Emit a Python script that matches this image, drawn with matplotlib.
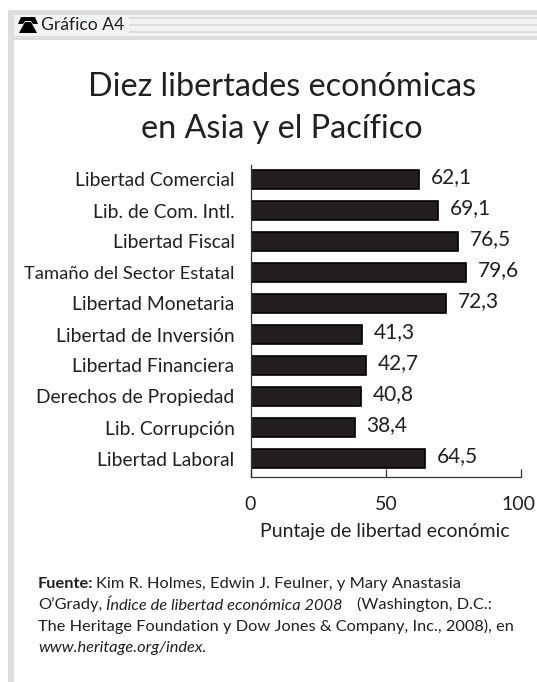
import matplotlib

matplotlib.use("Agg")
import matplotlib.pyplot as plt
from matplotlib.patches import Polygon, Rectangle
from matplotlib.transforms import ScaledTranslation

categories = [
    "Libertad Comercial",
    "Lib. de Com. Intl.",
    "Libertad Fiscal",
    "Tamaño del Sector Estatal",
    "Libertad Monetaria",
    "Libertad de Inversión",
    "Libertad Financiera",
    "Derechos de Propiedad",
    "Lib. Corrupción",
    "Libertad Laboral",
]
scores = [62.1, 69.1, 76.5, 79.6, 72.3, 41.3, 42.7, 40.8, 38.4, 64.5]
x_ticks = [0, 50, 100]

W, H = 537, 682
TEXT = "#231f20"
GREY = "#dcddde"
PALE = "#f1f2f2"


def main() -> None:
    plt.rcParams["font.family"] = ["Lato", "DejaVu Sans"]
    fig = plt.figure(figsize=(W / 100, H / 100), dpi=100, facecolor="white")

    # page furniture in pixel coordinates
    bg = fig.add_axes([0, 0, 1, 1])
    bg.set_xlim(0, W)
    bg.set_ylim(H, 0)
    bg.axis("off")
    bg.add_patch(Rectangle((8, 10), W - 8, 30, fc=GREY, ec="none"))
    bg.add_patch(Rectangle((8, 10), 6, H - 10, fc=GREY, ec="none"))
    bg.add_patch(Rectangle((14, 15), W - 14, 21, fc=PALE, ec="none"))
    for y in (17, 24, 31):
        bg.add_patch(Rectangle((129, y), W - 129, 2.2, fc=GREY, ec="none"))
    # telephone icon
    bg.add_patch(Polygon([(21, 17), (35, 17), (38, 24), (33, 24), (31, 21), (25, 21), (23, 24), (18, 24)],
                         fc="black", ec="none"))
    bg.add_patch(Polygon([(25, 22), (31, 22), (37, 33), (19, 33)], fc="black", ec="none"))
    bg.text(41, 25.5, "Gráfico A4", fontsize=12.6, color=TEXT, ha="left", va="center")
    bg.text(282, 87, "Diez libertades económicas", fontsize=23.3, color=TEXT, ha="center", va="center")
    bg.text(282, 129, "en Asia y el Pacífico", fontsize=23.3, color=TEXT, ha="center", va="center")

    fs = 11.8
    bg.text(38, 588, "Fuente:", fontsize=fs, fontweight="bold", color=TEXT, va="baseline")
    bg.text(96, 588, "Kim R. Holmes, Edwin J. Feulner, y Mary Anastasia", fontsize=fs, color=TEXT, va="baseline")
    bg.text(38, 609.5, "O’Grady,", fontsize=fs, color=TEXT, va="baseline")
    bg.text(106, 609.5, "Índice de libertad económica 2008", fontsize=fs, style="italic", color=TEXT, va="baseline")
    bg.text(357, 609.5, "(Washington, D.C.:", fontsize=fs, color=TEXT, va="baseline")
    bg.text(38, 631, "The Heritage Foundation y Dow Jones & Company, Inc., 2008), en", fontsize=fs, color=TEXT, va="baseline")
    bg.text(38, 652, "www.heritage.org/index.", fontsize=fs, style="italic", color=TEXT, va="baseline")

    # chart axes: x 0..100 spans px 250.5..521.5, bars every 31 px
    left, right, top, bottom = 250.5, 521.5, 165, 476.5
    ax = fig.add_axes([left / W, 1 - bottom / H, (right - left) / W, (bottom - top) / H])
    ax.patch.set_alpha(0)
    ypos = list(range(len(categories)))
    ax.barh(ypos, scores, height=0.6, color="#231f20", edgecolor="black", linewidth=1.2)
    ax.set_xlim(0, 100)
    ax.set_ylim((bottom - 179.5) / 31, (top - 179.5) / 31)
    ax.spines[["top", "right"]].set_visible(False)
    ax.spines[["left", "bottom"]].set_color("#333333")
    ax.spines[["left", "bottom"]].set_linewidth(0.9)
    ax.set_yticks(ypos, categories, fontsize=13.9, color=TEXT)
    # the longest label is set narrower in the reference
    ax.get_yticklabels()[3].set_fontsize(13.2)
    ax.tick_params(axis="y", length=0, pad=11.5)
    ax.set_xticks(x_ticks, [str(t) for t in x_ticks], fontsize=14, color=TEXT)
    ax.tick_params(axis="x", direction="in", length=6, width=0.9, pad=14, color="#333333")
    # pull "100" in so it stays on the page
    last = ax.get_xticklabels()[-1]
    last.set_transform(last.get_transform() + ScaledTranslation(-3 / 100, 0, fig.dpi_scale_trans))
    ax.set_xlabel("Puntaje de libertad económic", fontsize=14, color=TEXT, labelpad=7, x=0.495)
    for y, v in zip(ypos, scores):
        ax.annotate(f"{v:.1f}".replace(".", ","), (v, y), xytext=(8.5, 2), textcoords="offset points",
                    fontsize=15, color=TEXT, ha="left", va="center")

    fig.savefig("out.png", dpi=100)
    plt.close(fig)


if __name__ == "__main__":
    main()
